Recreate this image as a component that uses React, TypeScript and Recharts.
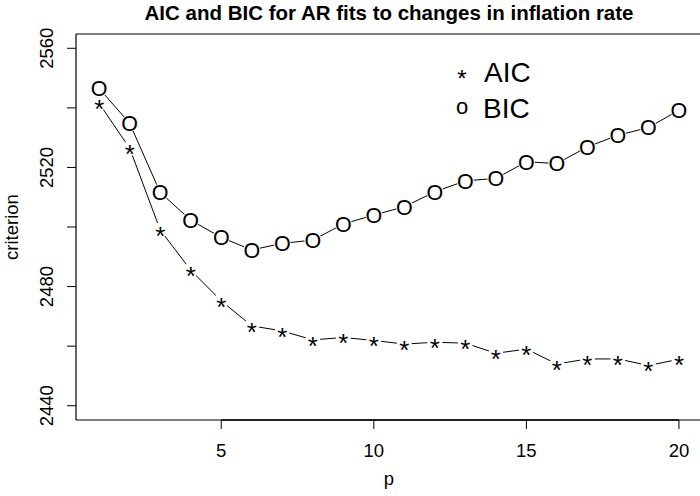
import { Legend, Line, LineChart, ReferenceLine, XAxis, YAxis } from "recharts";

const pValues = [1, 2, 3, 4, 5, 6, 7, 8, 9, 10, 11, 12, 13, 14, 15, 16, 17, 18, 19, 20];
const aic = [
  2541.5, 2526.4, 2499, 2485.5, 2475.2, 2466.8, 2465.1, 2462.1, 2462.9, 2461.9,
  2460.7, 2461.3, 2461, 2457.6, 2459, 2454, 2455.7, 2455.7, 2453.5, 2455.6,
];
const bic = [
  2546.5, 2534.8, 2511.6, 2502.3, 2496.5, 2492.3, 2494.5, 2495.6, 2501, 2504,
  2506.8, 2511.8, 2515.5, 2516.3, 2521.9, 2521.3, 2526.9, 2530.8, 2533.4, 2539.2,
];
const xTicks = [5, 10, 15, 20];
const yTicks = [2440, 2460, 2480, 2500, 2520, 2540, 2560];

const data = pValues.map((p, i) => ({ p, AIC: aic[i], BIC: bic[i] }));

const FONT = "'Liberation Sans', Arial, Helvetica, sans-serif";
const W = 700;
const H = 496;
// the original frame ends just past the right edge of the picture
const X_MIN = 0.24;
const X_MAX = 20.69;
const Y_MIN = 2435.2;
const Y_MAX = 2564.8;

const StarDot = (props: any) => {
  const { cx, cy } = props;
  if (cx == null || cy == null) return null;
  return (
    <g>
      <circle cx={cx} cy={cy} r={7.5} fill="#fff" />
      <text x={cx} y={cy + 15} textAnchor="middle" fontSize={26} fontFamily={FONT} fill="#000">
        *
      </text>
    </g>
  );
};

const ODot = (props: any) => {
  const { cx, cy } = props;
  if (cx == null || cy == null) return null;
  return (
    <g>
      <circle cx={cx} cy={cy} r={8.5} fill="#fff" />
      <text x={cx} y={cy + 7.8} textAnchor="middle" fontSize={21.5} fontFamily={FONT} fill="#000">
        O
      </text>
    </g>
  );
};

const XTick = (props: any) => {
  const { x, payload } = props;
  return (
    <text x={x} y={457} textAnchor="middle" fontSize={18.5} fontFamily={FONT} fill="#000">
      {payload.value}
    </text>
  );
};

const YTick = (props: any) => {
  const { y, payload } = props;
  if (payload.value % 40 !== 0) return <g />;
  return (
    <text
      x={53}
      y={y}
      textAnchor="middle"
      fontSize={18.5}
      fontFamily={FONT}
      fill="#000"
      transform={`rotate(-90, 53, ${y})`}
    >
      {payload.value}
    </text>
  );
};

// title, axis titles and the legend box, drawn as one overlay
const Overlay = () => (
  <svg width={W} height={H} style={{ display: "block" }}>
    <text x={389} y={20} textAnchor="middle" fontSize={20.5} fontWeight="bold" fontFamily={FONT} fill="#000">
      AIC and BIC for AR fits to changes in inflation rate
    </text>
    <text x={389} y={485} textAnchor="middle" fontSize={18.5} fontFamily={FONT} fill="#000">
      p
    </text>
    <text
      x={18}
      y={227}
      textAnchor="middle"
      fontSize={18.5}
      fontFamily={FONT}
      fill="#000"
      transform="rotate(-90, 18, 227)"
    >
      criterion
    </text>
    <text x={462} y={87} textAnchor="middle" fontSize={24} fontFamily={FONT} fill="#000">
      *
    </text>
    <text x={484} y={82} fontSize={28} fontFamily={FONT} fill="#000">
      AIC
    </text>
    <text x={462} y={114} textAnchor="middle" fontSize={22} fontFamily={FONT} fill="#000">
      o
    </text>
    <text x={483} y={118} fontSize={28} fontFamily={FONT} fill="#000">
      BIC
    </text>
  </svg>
);

const App = () => (
  <div style={{ position: "absolute", left: 0, top: 0, width: W, height: H, background: "#fff" }}>
    <LineChart width={W} height={H} data={data} margin={{ top: 34, right: 0, bottom: 16, left: 0 }}>
      <XAxis
        dataKey="p"
        type="number"
        domain={[X_MIN, X_MAX]}
        ticks={xTicks}
        allowDataOverflow
        axisLine={false}
        tickLine={{ stroke: "#000" }}
        tickSize={9}
        tick={<XTick />}
        height={60}
      />
      <YAxis
        type="number"
        domain={[Y_MIN, Y_MAX]}
        ticks={yTicks}
        allowDataOverflow
        axisLine={false}
        tickLine={{ stroke: "#000" }}
        tickSize={9}
        tick={<YTick />}
        width={76}
      />
      <ReferenceLine y={Y_MAX} stroke="#000" strokeWidth={1.2} ifOverflow="visible" />
      <ReferenceLine y={Y_MIN} stroke="#000" strokeWidth={1.2} ifOverflow="visible" />
      <ReferenceLine x={X_MIN} stroke="#000" strokeWidth={1.2} ifOverflow="visible" />
      <ReferenceLine
        segment={[
          { x: 5, y: Y_MIN },
          { x: 20, y: Y_MIN },
        ]}
        stroke="#000"
        strokeWidth={1.6}
        ifOverflow="visible"
      />
      <Line
        dataKey="BIC"
        stroke="#000"
        strokeWidth={1}
        dot={<ODot />}
        activeDot={false}
        isAnimationActive={false}
      />
      <Line
        dataKey="AIC"
        stroke="#000"
        strokeWidth={1}
        dot={<StarDot />}
        activeDot={false}
        isAnimationActive={false}
      />
      <Legend
        layout="horizontal"
        verticalAlign="middle"
        align="center"
        wrapperStyle={{ position: "absolute", left: 0, top: 0, width: W, height: H, pointerEvents: "none" }}
        content={() => <Overlay />}
      />
    </LineChart>
  </div>
);

export default App;
